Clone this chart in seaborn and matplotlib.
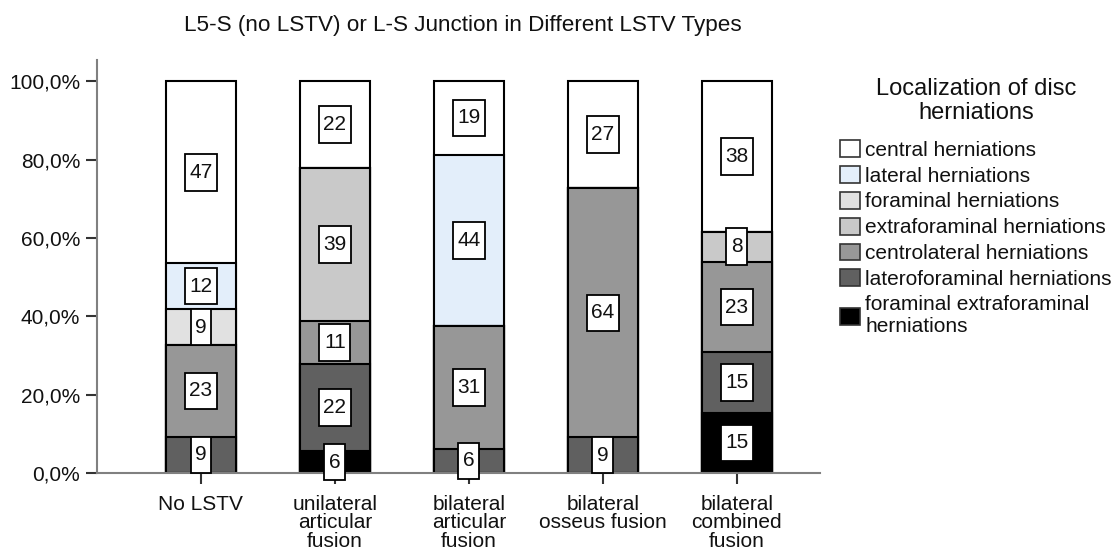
import pandas as pd
import numpy as np
import matplotlib.pyplot as plt
import seaborn as sns
from matplotlib.patches import Patch
from matplotlib.path import Path

# Set style
sns.set_style("white")
plt.rcParams['font.family'] = ['Liberation Sans', 'DejaVu Sans']
plt.rcParams['text.color'] = '#111111'
plt.rcParams['xtick.color'] = '#111111'
plt.rcParams['ytick.color'] = '#111111'

# =============================
# Data (percent of herniations per group)
# =============================
groups = ["No LSTV", "unilateral\narticular\nfusion", "bilateral\narticular\nfusion",
          "bilateral\nosseus fusion", "bilateral\ncombined\nfusion"]

# stacking order, bottom -> top
hernia_types = ["foraminal extraforaminal herniations", "lateroforaminal herniations",
                "centrolateral herniations", "extraforaminal herniations",
                "foraminal herniations", "lateral herniations", "central herniations"]

foraminal_extraforaminal = [0, 5.6, 0, 0, 15.4]
lateroforaminal = [9.3, 22.2, 6.25, 9.1, 15.4]
centrolateral = [23.3, 11.1, 31.25, 63.6, 23.1]
extraforaminal = [0, 38.9, 0, 0, 7.7]
foraminal = [9.3, 0, 0, 0, 0]
lateral = [11.6, 0, 43.75, 0, 0]
central = [46.5, 22.2, 18.75, 27.3, 38.4]

type_colors = ["#000000", "#606060", "#979797", "#c9c9c9", "#e1e1e1", "#e3eefa", "#ffffff"]

ytick_values = [0, 20, 40, 60, 80, 100]

# long table, cumulative tops for stacking
df = pd.DataFrame({
    'group': groups * 7,
    'type': np.repeat(hernia_types, len(groups)),
    'pct': (foraminal_extraforaminal + lateroforaminal + centrolateral + extraforaminal
            + foraminal + lateral + central),
})
df['top'] = df.groupby('group', sort=False)['pct'].cumsum()
df['mid'] = df['top'] - df['pct'] / 2


# tall label box (more padding top/bottom than left/right)
def tall_box(x0, y0, width, height, mutation_size):
    px, py = 0.22 * mutation_size, 0.42 * mutation_size
    x0, y0 = x0 - px, y0 - py
    x1, y1 = x0 + width + 2 * px, y0 + height + 2 * py
    return Path([(x0, y0), (x1, y0), (x1, y1), (x0, y1), (x0, y0)], closed=True)


# =============================
# Plot
# =============================
fig = plt.figure(figsize=(11.12, 5.49), dpi=100)
ax = fig.add_axes([0.0872, 0.1384, 0.650, 0.7523])

# draw tallest cumulative bar first, lower segments on top of it
for t, c in reversed(list(zip(hernia_types, type_colors))):
    sns.barplot(data=df[df['type'] == t], x='group', y='top', order=groups,
                color=c, width=0.522, edgecolor='black', linewidth=1.5,
                errorbar=None, saturation=1, ax=ax)

# value boxes
for _, row in df[df['pct'] > 0].iterrows():
    ax.text(groups.index(row['group']), row['mid'], f"{int(row['pct'] + 0.5)}",
            ha='center', va='center', fontsize=15, zorder=5,
            bbox=dict(boxstyle=tall_box, fc='white', ec='black', lw=1.3))

ax.set_xlim(-0.776, 4.62)
ax.set_ylim(0, 105.4)
ax.set_yticks(ytick_values)
ax.set_yticklabels([f"{v:.1f}%".replace('.', ',') for v in ytick_values])
ax.set_xlabel("")
ax.set_ylabel("")
ax.tick_params(axis='both', which='both', direction='out', length=8, width=1.5,
               color='#333333', labelsize=15, left=True, bottom=True)
ax.tick_params(axis='y', pad=4)
ax.tick_params(axis='x', pad=8)
for lab in ax.get_xticklabels():
    lab.set_linespacing(0.95)

sns.despine(ax=ax)
for s in ['left', 'bottom']:
    ax.spines[s].set_color('#808080')
    ax.spines[s].set_linewidth(1.5)

# title
fig.text(463 / 1112, 1 - 25 / 549, "L5-S (no LSTV) or L-S Junction in Different LSTV Types",
         ha='center', va='center', fontsize=16.2)

# legend
fig.text(976 / 1112, 1 - 101 / 549, "Localization of disc\nherniations",
         ha='center', va='center', fontsize=17, linespacing=1.1)
handles = [Patch(facecolor=c, edgecolor='#333333', linewidth=1.2, label=t)
           for t, c in zip(hernia_types, type_colors)][::-1]
handles[-1].set_label("foraminal extraforaminal\nherniations")
fig.legend(handles=handles, loc='upper left', bbox_to_anchor=(840 / 1112, 1 - 140 / 549),
           frameon=False, borderpad=0, borderaxespad=0, fontsize=15,
           handlelength=0.96, handleheight=0.87, handletextpad=0.25, labelspacing=0.3)

plt.savefig("out.png", dpi=100)
plt.close()
